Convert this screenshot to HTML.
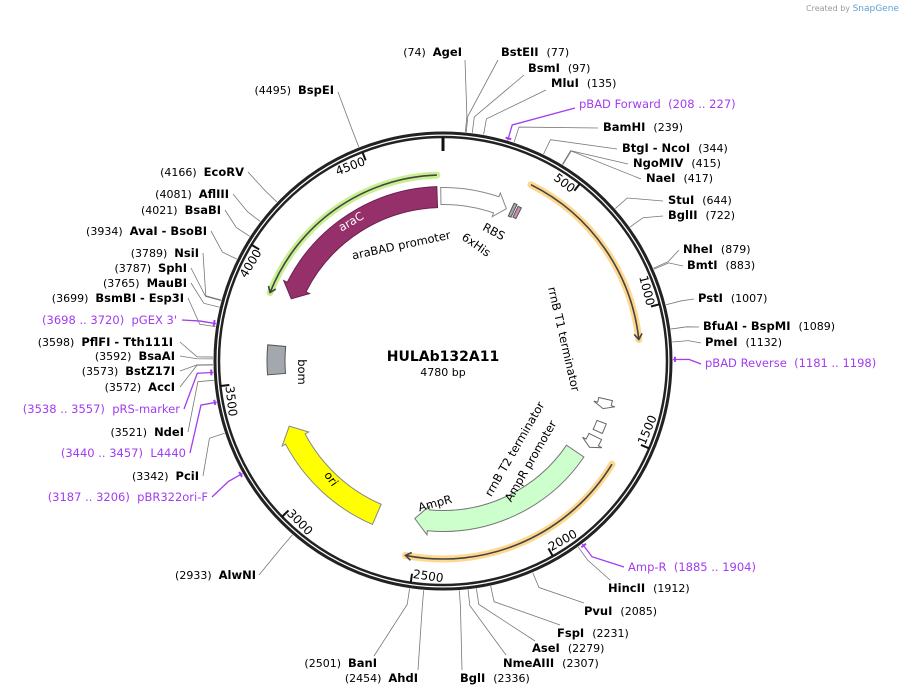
<!DOCTYPE html>
<html><head><meta charset="utf-8">
<style>
html,body{margin:0;padding:0;background:#fff;overflow:hidden;}
svg{display:block;font-family:"DejaVu Sans","Liberation Sans",sans-serif;}
.nm{font-weight:bold;font-size:11.5px;fill:#000;}
.nu{font-size:11px;fill:#000;}
.pp{font-size:11.5px;fill:#a23cf0;}
</style></head>
<body>
<svg id="map" width="903" height="696" viewBox="0 0 903 696">
<text x="806" y="11" font-size="8" fill="#999">Created by <tspan fill="#5aa0d8" font-size="9">SnapGene</tspan></text>
<g id="ring"></g><g id="feat"></g><g id="lbl"></g>
<text x="443" y="361" text-anchor="middle" font-weight="bold" font-size="14">HULAb132A11</text>
<text x="443" y="376" text-anchor="middle" font-size="11">4780 bp</text>
</svg>
<script>
const LEN = 4780;
const tickPositions = [0,500,1000,1500,2000,2500,3000,3500,4000,4500];
const siteNames = ["AgeI","BstEII","BsmI","MluI","pBAD Forward","BamHI","BtgI - NcoI","NgoMIV","NaeI","StuI","BglII","NheI","BmtI","PstI","BfuAI - BspMI","PmeI","pBAD Reverse","Amp-R","HincII","PvuI","FspI","AseI","NmeAIII","BglI","AhdI","BanI","AlwNI","pBR322ori-F","PciI","L4440","NdeI","pRS-marker","AccI","BstZ17I","BsaAI","PflFI - Tth111I","pGEX 3'","BsmBI - Esp3I","MauBI","SphI","NsiI","AvaI - BsoBI","BsaBI","AflIII","EcoRV","BspEI"];
const siteNums = ["(74)","(77)","(97)","(135)","(208 .. 227)","(239)","(344)","(415)","(417)","(644)","(722)","(879)","(883)","(1007)","(1089)","(1132)","(1181 .. 1198)","(1885 .. 1904)","(1912)","(2085)","(2231)","(2279)","(2307)","(2336)","(2454)","(2501)","(2933)","(3187 .. 3206)","(3342)","(3440 .. 3457)","(3521)","(3538 .. 3557)","(3572)","(3573)","(3592)","(3598)","(3698 .. 3720)","(3699)","(3765)","(3787)","(3789)","(3934)","(4021)","(4081)","(4166)","(4495)"];
const sitePos = [74,77,97,135,217,239,344,415,417,644,722,879,883,1007,1089,1132,1190,1895,1912,2085,2231,2279,2307,2336,2454,2501,2933,3196,3342,3448,3521,3547,3572,3573,3592,3598,3709,3699,3765,3787,3789,3934,4021,4081,4166,4495];
const primerEnds = {"pBAD Forward":[208,227],"pBAD Reverse":[1181,1198],"Amp-R":[1885,1904],"pBR322ori-F":[3187,3206],"L4440":[3440,3457],"pRS-marker":[3538,3557],"pGEX 3'":[3698,3720]};
const layout = [
["L",462,56,465,60],["R",501,56,498,60],["R",528,72,524,75],["R",551,87,546,90],["R",579,108,575,108],["R",603,131,598,128],["R",622,152,617,149],["R",633,167,628,164],["R",646,182,641,179],["R",668,204,663,201],["R",668,219,663,216],["R",683,253,679,250],["R",687,269,683,266],["R",698,302,694,299],["R",703,330,699,327],["R",705,346,701,343],["R",705,367,701,364],["R",628,571,624,567],["R",608,592,610,580],["R",584,615,584,603],["R",557,637,560,625],["R",532,652,535,641],["R",503,667,506,655],["R",460,682,462,670],["L",418,682,418,670],["L",377,667,374,656],["L",256,579,259,575],["L",208,501,212,497],["L",199,480,203,476],["L",186,457,190,453],["L",184,436,188,432],["L",180,413,184,409],["L",175,391,180,387],["L",175,375,180,371],["L",175,360,180,356],["L",173,346,180,342],["L",177,324,182,320],["L",184,302,188,298],["L",187,287,191,283],["L",187,272,191,268],["L",199,257,203,253],["L",207,235,211,231],["L",221,214,225,210],["L",229,198,233,194],["L",244,176,248,172],["L",334,94,338,92]];

const CX=443, CY=361, RO=228, RI=224;
const NS="http://www.w3.org/2000/svg";
function ang(p){return p/LEN*2*Math.PI;}
function pt(p,r){const a=ang(p);return [CX+r*Math.sin(a),CY-r*Math.cos(a)];}
function mk(tag,attrs,parent,name){const e=document.createElementNS(NS,tag);for(const k in attrs)e.setAttribute(k,attrs[k]);


parent.appendChild(e);return e;}
function arc(p1,p2,r,sweep){const b=pt(p2,r);
let d=sweep===1?((p2-p1)%LEN+LEN)%LEN:((p1-p2)%LEN+LEN)%LEN;const large=d>LEN/2?1:0;
return `A${r},${r} 0 ${large} ${sweep} ${b[0].toFixed(2)},${b[1].toFixed(2)}`;}
function M(p,r){const a=pt(p,r);return `M${a[0].toFixed(2)},${a[1].toFixed(2)}`;}
function L(p,r){const a=pt(p,r);return `L${a[0].toFixed(2)},${a[1].toFixed(2)}`;}
const ring=document.getElementById('ring'),feat=document.getElementById('feat'),lbl=document.getElementById('lbl');

mk('circle',{cx:CX,cy:CY,r:RO,fill:'none',stroke:'#222','stroke-width':3},ring,'backbone-outer');
mk('circle',{cx:CX,cy:CY,r:RI,fill:'none',stroke:'#222','stroke-width':2.5},ring,'backbone-inner');
tickPositions.forEach(p=>{
  const len=p===0?14:9;const a=pt(p,RI),b=pt(p,RI-len);
  mk('line',{x1:a[0],y1:a[1],x2:b[0],y2:b[1],stroke:'#111','stroke-width':p===0?3:2},ring,'tick-'+p);
  if(p===0)return;
  const c=pt(p-4,RI-9);let deg=p/LEN*360;let anchor='end';
  if(deg>90&&deg<270){deg-=180;anchor='start';}
  const t=mk('text',{x:c[0],y:c[1],'font-size':12,'text-anchor':anchor,'dominant-baseline':'central',transform:`rotate(${deg.toFixed(1)} ${c[0].toFixed(1)} ${c[1].toFixed(1)})`},ring,'tick-label-'+p);
  t.textContent=p;
});

function band(s,e,r,w,dir,head,fill,stroke,name){
  const r1=r-w/2,r2=r+w/2,hw=w/2+4;
  let d;
  if(dir===1){const he=e-head;d=M(s,r2)+arc(s,he,r2,1)+L(he,r+hw)+L(e,r)+L(he,r-hw)+L(he,r1)+arc(he,s,r1,0)+'Z';}
  else if(dir===-1){const hs=s+head;d=M(e,r2)+arc(e,hs,r2,0)+L(hs,r+hw)+L(s,r)+L(hs,r-hw)+L(hs,r1)+arc(hs,e,r1,1)+'Z';}
  else{d=M(s,r2)+arc(s,e,r2,1)+L(e,r1)+arc(e,s,r1,0)+'Z';}
  return mk('path',{d:d,fill:fill,stroke:stroke,'stroke-width':1},feat,name);
}
function orf(s,e,r,dir,halo,name){
  const g=mk('g',{},feat,name);
  mk('path',{d:M(s,r)+arc(s,e,r,1),fill:'none',stroke:halo,'stroke-width':7,'stroke-linecap':'round'},g,name+'-halo');
  mk('path',{d:M(s,r)+arc(s,e,r,1),fill:'none',stroke:'#444','stroke-width':1.6},g,name+'-line');
  const tip=dir===1?e:s,back=dir===1?e-22:s+22;
  mk('path',{d:M(back,r+4)+L(tip,r)+L(back,r-4),fill:'none',stroke:'#444','stroke-width':1.6},g,name+'-head');
}
orf(3872,4755,186,-1,'#c8f090','arac-orf');
band(3881,4753,164,21,-1,60,'#96306a','#6a2050','arac-gene');
band(4770,300,165,17,1,50,'#fff','#888','arabad-promoter');
band(322,336,166,14,0,0,'#a3a8ae','#555','rbs');
band(344,360,166,12,0,0,'#c98fb5','#555','6xhis-tag');
orf(352,1112,197,1,'#ffd890','orf-top');
band(1370,1415,167,14,1,22,'#fff','#666','rrnb-t1-terminator');
band(1475,1520,170,10,0,0,'#fff','#666','rrnb-t2-terminator');
band(1545,1600,170,14,1,25,'#fff','#666','ampr-promoter');
band(1650,2525,160,21,1,65,'#ccffcc','#777','ampr-gene');
orf(1612,2535,198,1,'#ffd890','orf-bottom');
band(2700,3280,167,22,1,65,'#ffff00','#888','ori');
band(3525,3655,167,18,0,0,'#a3a8ae','#555','bom');
for(const k in primerEnds){const [a,b]=primerEnds[k];
  mk('path',{d:M(a,232)+arc(a,b,232,1),fill:'none',stroke:'#a23cf0','stroke-width':2},feat,'primer-mark-'+k.toLowerCase().replace(/[^a-z0-9]+/g,'-'));}

function ftxt(txt,x,y,rot,name,col){const t=mk('text',{x:x,y:y,'font-size':11.5,'text-anchor':'middle',fill:col||'#000',transform:`rotate(${rot} ${x} ${y})`},feat,name);t.textContent=txt;}
ftxt('araC',353,225,-30,'arac-label','#fff');
ftxt('araBAD promoter',402,249,-12,'arabad-label');
ftxt('RBS',492,235,28,'rbs-label');
ftxt('6xHis',474,248,35,'6xhis-label');
ftxt('rrnB T1 terminator',560,340,77,'rrnb-t1-label');
ftxt('rrnB T2 terminator',518,451,-60,'rrnb-t2-label');
ftxt('AmpR promoter',534,463,-60,'ampr-promoter-label');
ftxt('AmpR',436,507,-15,'ampr-label');
ftxt('ori',328,481,55,'ori-label');
ftxt('bom',298,372,90,'bom-label');

siteNames.forEach((n,i)=>{
  const [side,x,y,lx,ly]=layout[i];const p=sitePos[i];
  const purple=primerEnds[n]!==undefined;const col=purple?'#a23cf0':'#777';
  const a=pt(p,230),b=pt(p,246);
  const slug=n.toLowerCase().replace(/[^a-z0-9]+/g,'-');
  mk('polyline',{points:`${a[0]},${a[1]} ${b[0]},${b[1]} ${lx},${ly}`,fill:'none',stroke:col,'stroke-width':purple?1.3:0.8},lbl,'leader-'+slug);
  const t=mk('text',{x:x,y:y,'text-anchor':side==='R'?'start':'end'},lbl,'site-label-'+slug);
  const s1=document.createElementNS(NS,'tspan'),s2=document.createElementNS(NS,'tspan');
  
  
  
  
  if(purple){s1.setAttribute('class','pp');s2.setAttribute('class','pp');}
  else{s1.setAttribute('class','nm');s2.setAttribute('class','nu');}
  if(side==='R'){s1.textContent=n+'  ';s2.textContent=siteNums[i];t.appendChild(s1);t.appendChild(s2);}
  else{s2.textContent=siteNums[i]+'  ';s1.textContent=n;t.appendChild(s2);t.appendChild(s1);}
  t.setAttribute('xml:space','preserve');t.style.whiteSpace='pre';
});
</script>
</body></html>
